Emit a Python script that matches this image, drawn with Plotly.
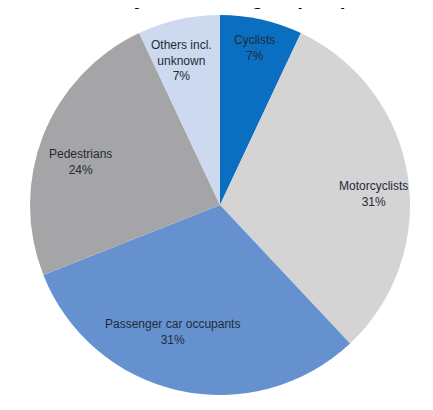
import plotly.graph_objects as go

# data
groups = ["Cyclists", "Motorcyclists", "Passenger car occupants", "Pedestrians", "Others incl.<br>unknown"]
shares = [7, 31, 31, 24, 7]
title_text = "Fatalities by road user group in percentage"

colors = ["#0b6fc1", "#d4d4d4", "#6592cf", "#a5a5a7", "#cdd9ef"]

W, H = 433, 410
OFF = 8  # page body margin
# label centres in page pixels (x, y)
label_pos = [(255, 48), (373, 194), (172, 332), (80, 162), (181, 60)]


def px_x(v):
    return (v - OFF) / W


def px_y(v):
    return 1 - (v - OFF) / H


fig = go.Figure()
fig.add_trace(go.Pie(
    labels=groups,
    values=shares,
    sort=False,
    direction="clockwise",
    rotation=0,
    marker=dict(colors=colors, line=dict(width=0)),
    textinfo="none",
    hoverinfo="label+percent",
    showlegend=False,
    domain=dict(x=[px_x(30), px_x(410)], y=[px_y(395), px_y(15)]),
))

for (px, py), g, s in zip(label_pos, groups, shares):
    fig.add_annotation(
        x=px_x(px), y=px_y(py), xref="paper", yref="paper",
        text=f"{g}<br>{s}%", showarrow=False,
        font=dict(family="Liberation Sans, Arial", size=12, color="#222a38"),
        align="center", xanchor="center", yanchor="middle",
    )

# title sits mostly above the visible area, only descenders show
fig.add_annotation(
    x=px_x(24), y=px_y(11), xref="paper", yref="paper",
    text=title_text, showarrow=False,
    font=dict(family="Liberation Sans, Arial", size=20.7, color="black", weight="bold"),
    xanchor="left", yanchor="bottom",
)

fig.update_layout(
    width=W, height=H,
    margin=dict(l=0, r=0, t=0, b=0),
    paper_bgcolor="white",
    plot_bgcolor="white",
)
fig.write_html("out.html")
